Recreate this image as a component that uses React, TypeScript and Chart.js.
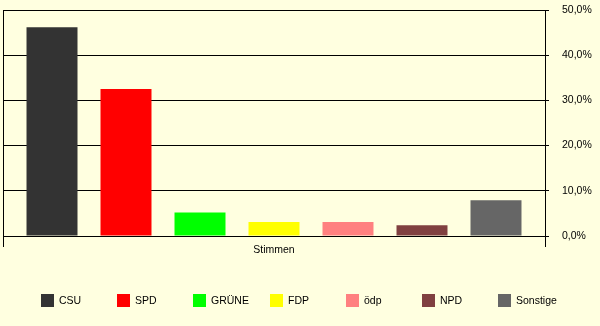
import React, { useEffect, useRef } from "react";
import { Chart, registerables } from "chart.js";

Chart.register(...registerables);

const categories = ["Stimmen"];
const parties = ["CSU", "SPD", "GRÜNE", "FDP", "ödp", "NPD", "Sonstige"];
const values = [46.2, 32.5, 5.2, 3.1, 3.1, 2.4, 7.9];
const colors = ["#333333", "#FF0000", "#00FF00", "#FFFF00", "#FF8080", "#804040", "#666666"];
const yTicks = [0, 10, 20, 30, 40, 50];

const FONT = "'Liberation Sans', Arial, sans-serif";

const legendPlugin = {
  id: "fixedLegend",
  afterDraw(chart: any) {
    const ctx = chart.ctx;
    ctx.save();
    ctx.font = `10.5px ${FONT}`;
    ctx.textBaseline = "middle";
    ctx.textAlign = "left";
    chart.data.datasets.forEach((ds: any, i: number) => {
      const x = 41 + 76.2 * i;
      const y = 294;
      ctx.fillStyle = ds.backgroundColor;
      ctx.fillRect(Math.round(x), y, 13, 13);
      ctx.fillStyle = "#000000";
      ctx.fillText(ds.label, Math.round(x) + 18, y + 7.5);
    });
    ctx.restore();
  },
};

export default function App() {
  const ref = useRef<HTMLCanvasElement>(null);
  useEffect(() => {
    document.body.style.margin = "0";
    const chart = new Chart(ref.current as HTMLCanvasElement, {
      type: "bar",
      data: {
        labels: categories,
        datasets: parties.map((p, i) => ({
          label: p,
          data: [values[i]],
          backgroundColor: colors[i],
          borderWidth: 0,
          categoryPercentage: 0.9557,
          barPercentage: 0.689,
        })),
      },
      options: {
        animation: false,
        responsive: false,
        layout: { padding: { left: 3, top: 10, right: 0, bottom: 0 } },
        plugins: { legend: { display: false }, tooltip: { enabled: false } },
        scales: {
          x: {
            grid: { display: true, color: "#000000", lineWidth: 1, tickLength: 11, offset: true },
            border: { display: true, color: "#000000" },
            ticks: { color: "#000000", font: { family: FONT, size: 10.5 }, padding: -3 },
            afterFit(scale: any) {
              scale.height = 90;
              scale.paddingLeft = 0;
              scale.paddingRight = 0;
            },
          },
          y: {
            position: "right",
            min: 0,
            max: 50,
            afterBuildTicks(scale: any) {
              scale.ticks = yTicks.map((v) => ({ value: v }));
            },
            grid: { color: "#000000", lineWidth: 1, tickLength: 4 },
            border: { display: true, color: "#000000" },
            ticks: {
              color: "#000000",
              font: { family: FONT, size: 10.5 },
              padding: 13,
              callback: (v: any) => Number(v).toFixed(1).replace(".", ",") + "%",
            },
            afterFit(scale: any) {
              scale.width = 55;
              scale.paddingTop = 0;
              scale.paddingBottom = 0;
            },
          },
        },
      },
      plugins: [legendPlugin],
    } as any);
    return () => chart.destroy();
  }, []);
  return (
    <div style={{ position: "absolute", left: 0, top: 0, width: 600, height: 326, background: "#FFFFE0" }}>
      <canvas ref={ref} width={600} height={326} style={{ display: "block" }} />
    </div>
  );
}
